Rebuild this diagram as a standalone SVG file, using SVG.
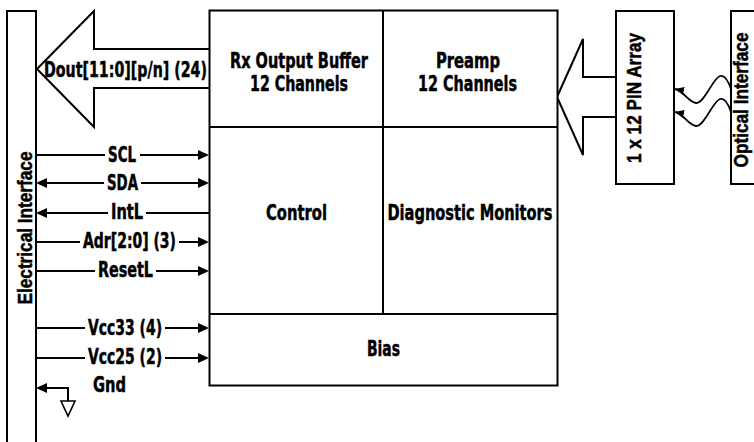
<svg xmlns="http://www.w3.org/2000/svg" width="754" height="442" viewBox="0 0 754 442">
<style>
.box{fill:#fff;stroke:#000;stroke-width:2}
.ln{fill:none;stroke:#000;stroke-width:2}
.wv{fill:none;stroke:#000;stroke-width:1.8}
.gap{fill:#fff;stroke:none}
.t{font-family:'Liberation Sans Narrow','DejaVu Sans Condensed','DejaVu Sans','Liberation Sans',sans-serif;font-stretch:condensed;font-weight:bold;font-size:22px;fill:#000;stroke:#000;stroke-width:0.5px;text-anchor:middle}
.sig{font-size:21.5px}
.r{font-family:'Liberation Sans','Open Sans',sans-serif;font-weight:bold;font-size:20px;fill:#000;stroke:#000;stroke-width:0.5px;text-anchor:middle}
</style>
<defs>
<marker id="ah" viewBox="0 0 11 10" refX="5" refY="5" markerWidth="11" markerHeight="10" markerUnits="userSpaceOnUse" orient="auto-start-reverse"><path d="M0,0 L11,5 L0,10 z" fill="#000"/></marker>
<marker id="as" viewBox="0 0 9 8" refX="9" refY="4" markerWidth="9" markerHeight="8" markerUnits="userSpaceOnUse" orient="auto"><path d="M0,0 L9,4 L0,8 z" fill="#000"/></marker>
</defs>

<g id="electrical-interface">
<rect class="box" x="7" y="11" width="29" height="440"/>
<text class="r" transform="translate(32,228) rotate(-90)" textLength="153" lengthAdjust="spacingAndGlyphs">Electrical Interface</text>
</g>

<g id="dout-arrow">
<polygon class="box" points="37,69 94,11 94,49 210,49 210,88 94,88 94,127"/>
<text class="t" x="125.5" y="77" textLength="163" lengthAdjust="spacingAndGlyphs">Dout[11:0][p/n] (24)</text>
</g>

<g id="pin-arrow">
<polygon class="box" points="557,97 583,39 583,77 616,77 616,117 583,117 583,155"/>
</g>

<g id="main-block">
<rect class="box" x="209.5" y="10.5" width="348" height="375"/>
<line class="ln" x1="383" y1="10.5" x2="383" y2="314"/>
<line class="ln" x1="209.5" y1="127" x2="557.5" y2="127"/>
<line class="ln" x1="209.5" y1="314" x2="557.5" y2="314"/>
</g>

<g id="rx-output-buffer">
<text class="t" x="299" y="68" textLength="138" lengthAdjust="spacingAndGlyphs">Rx Output Buffer</text>
<text class="t" x="299" y="91" textLength="98" lengthAdjust="spacingAndGlyphs">12 Channels</text>
</g>
<g id="preamp">
<text class="t" x="468" y="68" textLength="64" lengthAdjust="spacingAndGlyphs">Preamp</text>
<text class="t" x="467.5" y="91" textLength="99" lengthAdjust="spacingAndGlyphs">12 Channels</text>
</g>
<g id="control">
<text class="t" x="296.5" y="220" textLength="61" lengthAdjust="spacingAndGlyphs">Control</text>
</g>
<g id="diagnostic-monitors">
<text class="t" x="470" y="220" textLength="165" lengthAdjust="spacingAndGlyphs">Diagnostic Monitors</text>
</g>
<g id="bias">
<text class="t" x="383.5" y="356" textLength="33" lengthAdjust="spacingAndGlyphs">Bias</text>
</g>

<g id="pin-array">
<rect class="box" x="616" y="11" width="58" height="173"/>
<text class="r" transform="translate(641,98) rotate(-90)" textLength="130" lengthAdjust="spacingAndGlyphs">1 x 12 PIN Array</text>
</g>

<g id="optical-interface">
<rect class="box" x="731" y="11" width="40" height="173"/>
<text class="r" transform="translate(748,100) rotate(-90)" textLength="135" lengthAdjust="spacingAndGlyphs">Optical Interface</text>
</g>

<g id="connectors">
<line class="ln" x1="36" y1="155" x2="203" y2="155" marker-end="url(#ah)"/>
<line class="ln" x1="42" y1="183" x2="203" y2="183" marker-start="url(#ah)" marker-end="url(#ah)"/>
<line class="ln" x1="42" y1="213" x2="209" y2="213" marker-start="url(#ah)"/>
<line class="ln" x1="36" y1="242" x2="203" y2="242" marker-end="url(#ah)"/>
<line class="ln" x1="36" y1="271" x2="203" y2="271" marker-end="url(#ah)"/>
<line class="ln" x1="36" y1="328" x2="203" y2="328" marker-end="url(#ah)"/>
<line class="ln" x1="36" y1="358" x2="203" y2="358" marker-end="url(#ah)"/>
<path class="ln" d="M68,401 V388 H42" marker-end="url(#ah)"/>
<polygon points="61,401 75,401 68,416" fill="#fff" stroke="#000" stroke-width="1.6"/>
<path class="wv" d="M731,89 C728,80 724,75 720,76 C713,78 704,104 696,103 C688,102 684,91 675,89" marker-end="url(#as)"/>
<path class="wv" d="M731,112 C728,103 724,98 720,99 C713,101 704,127 696,126 C688,125 684,114 675,112" marker-end="url(#as)"/>
<rect class="gap" x="105" y="151" width="35" height="8"/>
<rect class="gap" x="104" y="179" width="37" height="8"/>
<rect class="gap" x="108" y="209" width="38" height="8"/>
<rect class="gap" x="80" y="238" width="99" height="8"/>
<rect class="gap" x="95" y="267" width="61" height="8"/>
<rect class="gap" x="85" y="324" width="80" height="8"/>
<rect class="gap" x="85" y="354" width="80" height="8"/>
<text class="t sig" x="122" y="162" textLength="28" lengthAdjust="spacingAndGlyphs">SCL</text>
<text class="t sig" x="122.5" y="190" textLength="31" lengthAdjust="spacingAndGlyphs">SDA</text>
<text class="t sig" x="127" y="219" textLength="32" lengthAdjust="spacingAndGlyphs">IntL</text>
<text class="t sig" x="129.5" y="248" textLength="93" lengthAdjust="spacingAndGlyphs">Adr[2:0] (3)</text>
<text class="t sig" x="125.5" y="277" textLength="55" lengthAdjust="spacingAndGlyphs">ResetL</text>
<text class="t sig" x="125" y="335" textLength="74" lengthAdjust="spacingAndGlyphs">Vcc33 (4)</text>
<text class="t sig" x="125" y="364" textLength="74" lengthAdjust="spacingAndGlyphs">Vcc25 (2)</text>
<text class="t sig" x="109.5" y="392" textLength="33" lengthAdjust="spacingAndGlyphs">Gnd</text>
</g>
</svg>
